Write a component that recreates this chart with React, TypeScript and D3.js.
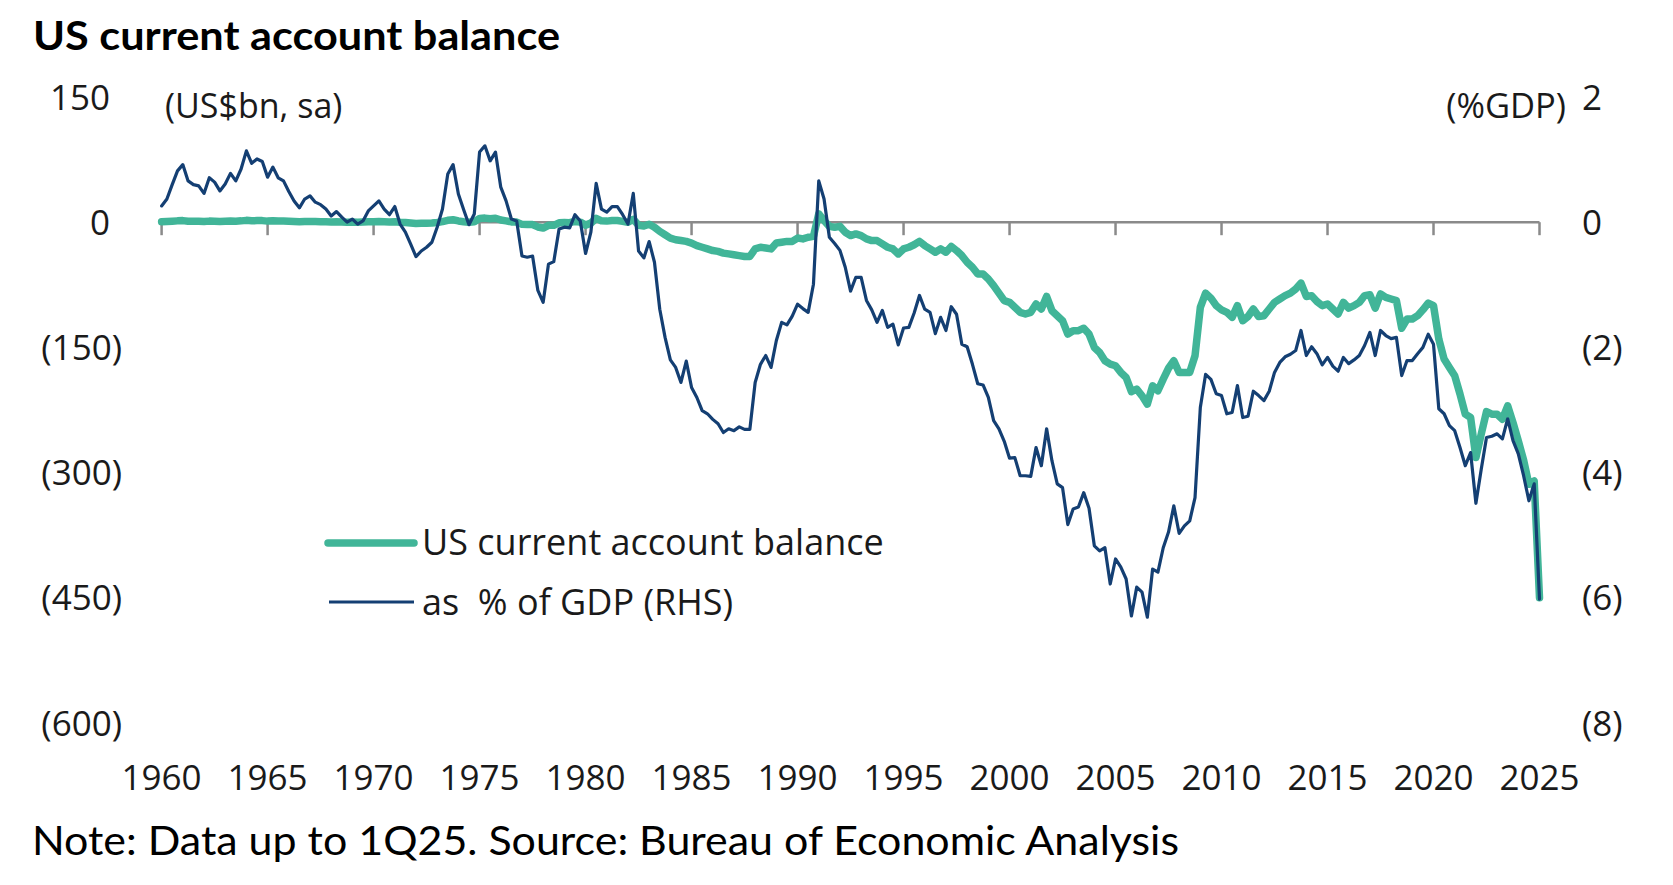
import { useEffect } from 'react'
import * as d3 from 'd3'

const W = 1673
const H = 885
const START_YEAR = 1960

// US current account balance, quarterly 1Q60..1Q25 (US$bn, sa)
const balanceBn = [
  0.4, 0.7, 1.1, 1.6,
  1.9, 1.2, 1.0, 1.0,
  0.8, 1.3, 1.2, 0.9,
  1.1, 1.4, 1.2, 1.6,
  2.2, 1.8, 1.9, 1.9,
  1.3, 1.7, 1.4, 1.3,
  1.0, 0.7, 0.5, 0.8,
  0.9, 0.7, 0.6, 0.4,
  0.2, 0.4, 0.2, 0.0,
  0.1, -0.1, 0.1, 0.4,
  0.6, 0.8, 0.5, 0.3,
  0.6, -0.1, -0.4, -0.9,
  -1.5, -1.3, -1.2, -1.0,
  -0.3, 0.7, 2.3, 2.9,
  1.5, 0.6, -0.1, 0.5,
  4.4, 4.9, 4.1, 4.8,
  2.6, 1.6, 0.3, 0.1,
  -2.6, -2.8, -2.8, -5.7,
  -7.0, -3.8, -3.7, -0.7,
  -0.5, -0.6, 0.9, 0.1,
  -3.5, -1.1, 4.6, 1.6,
  1.3, 2.0, 2.0, 1.0,
  -0.2, 3.5, -3.7, -4.6,
  -2.5, -6.0, -11, -15,
  -19, -21, -22, -23,
  -25, -28, -30, -32,
  -34, -35, -37, -38,
  -39, -40, -41, -41,
  -32, -30, -31, -32,
  -25, -24, -23, -23,
  -19, -20, -18, -17,
  10, 2, -5, -6,
  -5, -12, -16, -14,
  -16, -20, -22, -22,
  -26, -30, -32, -38,
  -32, -30, -27, -23,
  -28, -32, -36, -32,
  -36, -29, -34, -40,
  -48, -54, -62, -62,
  -68, -76, -85, -94,
  -96, -102, -108, -110,
  -108, -98, -104, -89,
  -106, -112, -118, -134,
  -130, -130, -127, -134,
  -150, -156, -166, -170,
  -172, -180, -186, -203,
  -200, -208, -218, -196,
  -202, -188, -175, -166,
  -180, -180, -180, -160,
  -102, -85, -91, -100,
  -105, -108, -114, -100,
  -118, -113, -104, -113,
  -112, -104, -96, -92,
  -88, -85, -80, -73,
  -89, -88, -95, -100,
  -98, -104, -110, -96,
  -103, -100, -96, -88,
  -87, -103, -86, -90,
  -92, -94, -127, -116,
  -116, -112, -105, -97,
  -100, -140, -164, -174,
  -184, -206, -230, -234,
  -282, -254, -227, -230,
  -230, -236, -220, -240,
  -262, -285, -314, -310,
  -450,
]

// as % of GDP, same quarters (RHS)
const pctGdp = [
  0.26, 0.37, 0.60, 0.82,
  0.92, 0.66, 0.60, 0.58,
  0.46, 0.71, 0.64, 0.50,
  0.61, 0.78, 0.66, 0.85,
  1.14, 0.94, 1.01, 0.97,
  0.72, 0.88, 0.71, 0.66,
  0.49, 0.34, 0.23, 0.37,
  0.42, 0.32, 0.28, 0.21,
  0.10, 0.17, 0.08, 0.00,
  0.05, -0.03, 0.02, 0.18,
  0.26, 0.34, 0.21, 0.12,
  0.25, -0.03, -0.16, -0.35,
  -0.55, -0.46, -0.40, -0.32,
  -0.08, 0.21, 0.77, 0.92,
  0.45, 0.20, -0.04, 0.13,
  1.12, 1.22, 0.98, 1.12,
  0.56, 0.34, 0.05, 0.02,
  -0.54, -0.56, -0.54, -1.09,
  -1.28, -0.67, -0.63, -0.11,
  -0.08, -0.09, 0.12, 0.02,
  -0.50, -0.16, 0.62, 0.21,
  0.16, 0.25, 0.25, 0.12,
  -0.03, 0.46, -0.46, -0.57,
  -0.31, -0.64, -1.39, -1.84,
  -2.20, -2.32, -2.56, -2.22,
  -2.64, -2.80, -3.01, -3.06,
  -3.15, -3.22, -3.36, -3.30,
  -3.33, -3.27, -3.31, -3.31,
  -2.56, -2.27, -2.13, -2.32,
  -1.89, -1.60, -1.64, -1.50,
  -1.31, -1.38, -1.44, -0.99,
  0.66, 0.37, -0.24, -0.34,
  -0.45, -0.72, -1.10, -0.88,
  -0.88, -1.25, -1.40, -1.60,
  -1.41, -1.68, -1.63, -1.96,
  -1.69, -1.68, -1.45, -1.17,
  -1.39, -1.44, -1.78, -1.52,
  -1.73, -1.35, -1.47, -1.95,
  -1.99, -2.27, -2.58, -2.60,
  -2.80, -3.17, -3.30, -3.50,
  -3.77, -3.76, -4.05, -4.05,
  -4.06, -3.60, -3.89, -3.30,
  -3.81, -4.18, -4.24, -4.83,
  -4.58, -4.55, -4.32, -4.57,
  -5.17, -5.25, -5.20, -5.78,
  -5.38, -5.51, -5.70, -6.29,
  -5.83, -5.91, -6.31, -5.54,
  -5.59, -5.20, -4.95, -4.53,
  -4.97, -4.85, -4.77, -4.40,
  -2.96, -2.43, -2.51, -2.74,
  -2.77, -3.06, -3.04, -2.61,
  -3.12, -3.10, -2.70, -2.77,
  -2.85, -2.70, -2.40, -2.24,
  -2.15, -2.11, -2.05, -1.73,
  -2.13, -1.99, -2.10, -2.28,
  -2.16, -2.30, -2.38, -2.16,
  -2.26, -2.20, -2.13, -1.97,
  -1.76, -2.13, -1.73, -1.81,
  -1.86, -1.84, -2.45, -2.21,
  -2.21, -2.10, -2.00, -1.79,
  -1.95, -2.98, -3.06, -3.25,
  -3.33, -3.60, -3.89, -3.68,
  -4.49, -3.95, -3.44, -3.42,
  -3.38, -3.46, -3.14, -3.49,
  -3.70, -4.05, -4.45, -4.18,
  -6.02,
]

const leftTicks = [150, 0, -150, -300, -450, -600]
const rightTicks = [2, 0, -2, -4, -6, -8]
const yearTicks = [1960, 1965, 1970, 1975, 1980, 1985, 1990, 1995, 2000, 2005, 2010, 2015, 2020, 2025]

const GREEN = '#41b598'
const BLUE = '#143f73'
const AXIS = '#8a8a8a'
const TEXT = '#1a1a1a'
const labelFont = '"Open Sans", sans-serif'
const titleFont = 'Lato, sans-serif'

const x = d3.scaleLinear().domain([1960, 2025]).range([161.6, 1539.5])
const yL = d3.scaleLinear().domain([-600, 150]).range([723, 97])
const yR = d3.scaleLinear().domain([-8, 2]).range([723, 97])

const qDate = (i: number) => START_YEAR + i / 4
const fmt = (v: number) => (v < 0 ? `(${Math.abs(v)})` : `${v}`)

const greenLine = d3.line<number>().x((_, i) => x(qDate(i))).y((d) => yL(d)).curve(d3.curveLinear)
const blueLine = d3.line<number>().x((_, i) => x(qDate(i))).y((d) => yR(d)).curve(d3.curveLinear)

export default function App() {
  useEffect(() => {
    document.body.style.margin = '0'
  }, [])

  const y0 = yL(0)

  return (
    <svg width={W} height={H} viewBox={`0 0 ${W} ${H}`} style={{ display: 'block', background: '#fff' }}>
      <text x={33} y={50} fontFamily={titleFont} fontWeight={700} fontSize={41} fill="#000"
        textLength={527} lengthAdjust="spacingAndGlyphs">
        US current account balance
      </text>

      {/* axis units */}
      <text x={165} y={118} fontFamily={labelFont} fontSize={34} fill={TEXT}>(US$bn, sa)</text>
      <text x={1566} y={118} fontFamily={labelFont} fontSize={34.5} fill={TEXT} textAnchor="end">(%GDP)</text>

      {/* left axis labels */}
      {leftTicks.map((v) => (
        <text key={`l${v}`} x={v < 0 ? 122 : 110} y={yL(v)} dy="0.36em" textAnchor="end"
          fontFamily={labelFont} fontSize={35} fill={TEXT}>{fmt(v)}</text>
      ))}
      {/* right axis labels */}
      {rightTicks.map((v) => (
        <text key={`r${v}`} x={1582} y={yR(v)} dy="0.36em" textAnchor="start"
          fontFamily={labelFont} fontSize={35} fill={TEXT}>{fmt(v)}</text>
      ))}

      {/* zero line with year ticks */}
      <line x1={x(1960)} x2={x(2025)} y1={y0} y2={y0} stroke={AXIS} strokeWidth={2.5} />
      {yearTicks.map((yr) => (
        <line key={`t${yr}`} x1={x(yr)} x2={x(yr)} y1={y0} y2={y0 + 13} stroke={AXIS} strokeWidth={2.5} />
      ))}
      {yearTicks.map((yr) => (
        <text key={`y${yr}`} x={x(yr)} y={790} textAnchor="middle" fontFamily={labelFont} fontSize={35} fill={TEXT}>
          {yr}
        </text>
      ))}

      <path d={greenLine(balanceBn) ?? ''} fill="none" stroke={GREEN} strokeWidth={7.5} strokeLinejoin="round" strokeLinecap="round" />
      <path d={blueLine(pctGdp) ?? ''} fill="none" stroke={BLUE} strokeWidth={3.2} strokeLinejoin="round" strokeLinecap="round" />

      {/* legend */}
      <line x1={328} x2={414} y1={543} y2={543} stroke={GREEN} strokeWidth={7.5} strokeLinecap="round" />
      <text x={422} y={555} fontFamily={labelFont} fontSize={36} fill={TEXT}>US current account balance</text>
      <line x1={329} x2={414} y1={602} y2={602} stroke={BLUE} strokeWidth={3.2} />
      <text x={422} y={615} fontFamily={labelFont} fontSize={36} fill={TEXT} style={{ whiteSpace: 'pre' }}>
        {'as  % of GDP (RHS)'}
      </text>

      <text x={32} y={855} fontFamily={titleFont} fontSize={41} fill="#000"
        textLength={1147} lengthAdjust="spacingAndGlyphs">
        Note: Data up to 1Q25. Source: Bureau of Economic Analysis
      </text>
    </svg>
  )
}
